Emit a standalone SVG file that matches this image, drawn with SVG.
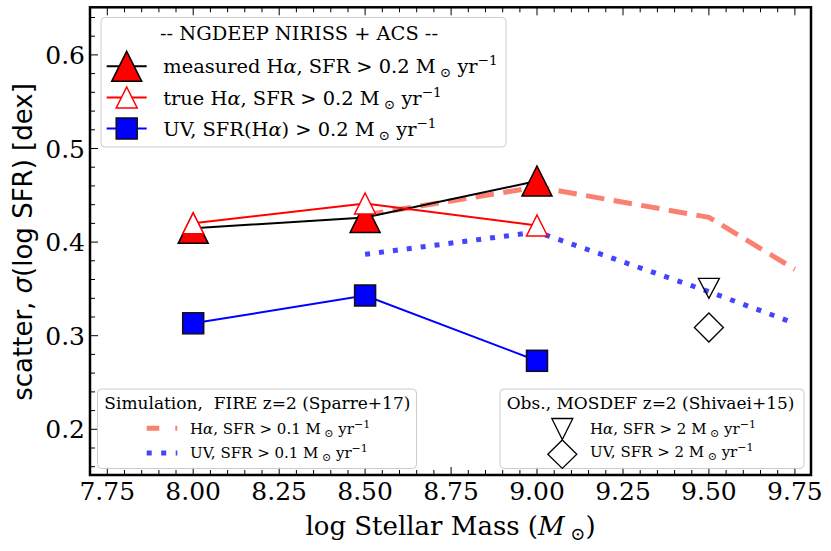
<svg xmlns="http://www.w3.org/2000/svg" width="831" height="551" viewBox="0 0 831 551">
<style>
.serif{font-family:"DejaVu Serif","Liberation Serif",serif;fill:#000}
.sans{font-family:"DejaVu Sans","Liberation Sans",sans-serif;fill:#000}
.tick{font-size:25px}
.lab{font-size:26px}
.lg1{font-size:19.4px}
.lgt{font-size:17px;white-space:pre}
.lge{font-size:15px}
.tk{stroke:#000;stroke-width:1;fill:none}
.legbox{fill:#fff;fill-opacity:0.8;stroke:#cccccc;stroke-width:1}
.meas{fill:#ff0000;stroke:#000;stroke-width:1.5}
.true{fill:#fff;stroke:#ff0000;stroke-width:1.5}
.uv{fill:#0000ff;stroke:#111;stroke-width:1.5}
.obs{fill:none;stroke:#000;stroke-width:1.3}
.fireha{fill:none;stroke:#fa8072;stroke-width:5;stroke-dasharray:18.5 9.5}
.fireuv{fill:none;stroke:#4444ff;stroke-width:5;stroke-dasharray:5 9}
</style>
<rect x="0" y="0" width="831" height="551" fill="#fff"/>

<g id="ticks">
<path class="tk" d="M107.3 475v-8M193.2 475v-8M279.2 475v-8M365.1 475v-8M451.1 475v-8M537 475v-8M623 475v-8M708.9 475v-8M794.9 475v-8
M124.5 475v-5M141.7 475v-5M158.9 475v-5M176 475v-5M210.4 475v-5M227.6 475v-5M244.8 475v-5M262 475v-5M296.4 475v-5M313.6 475v-5M330.8 475v-5M348 475v-5M382.3 475v-5M399.5 475v-5M416.7 475v-5M433.9 475v-5M468.3 475v-5M485.5 475v-5M502.7 475v-5M519.9 475v-5M554.2 475v-5M571.4 475v-5M588.6 475v-5M605.8 475v-5M640.2 475v-5M657.4 475v-5M674.6 475v-5M691.8 475v-5M726.1 475v-5M743.3 475v-5M760.5 475v-5M777.7 475v-5
M107.3 7.3v8M193.2 7.3v8M279.2 7.3v8M365.1 7.3v8M451.1 7.3v8M537 7.3v8M623 7.3v8M708.9 7.3v8M794.9 7.3v8
M124.5 7.3v5M141.7 7.3v5M158.9 7.3v5M176 7.3v5M210.4 7.3v5M227.6 7.3v5M244.8 7.3v5M262 7.3v5M296.4 7.3v5M313.6 7.3v5M330.8 7.3v5M348 7.3v5M382.3 7.3v5M399.5 7.3v5M416.7 7.3v5M433.9 7.3v5M468.3 7.3v5M485.5 7.3v5M502.7 7.3v5M519.9 7.3v5M554.2 7.3v5M571.4 7.3v5M588.6 7.3v5M605.8 7.3v5M640.2 7.3v5M657.4 7.3v5M674.6 7.3v5M691.8 7.3v5M726.1 7.3v5M743.3 7.3v5M760.5 7.3v5M777.7 7.3v5
M90 429.3h8M90 335.7h8M90 242.1h8M90 148.5h8M90 54.9h8
M90 466.7h5M90 448h5M90 410.6h5M90 391.9h5M90 373.1h5M90 354.4h5M90 317h5M90 298.3h5M90 279.5h5M90 260.8h5M90 223.4h5M90 204.7h5M90 185.9h5M90 167.2h5M90 129.8h5M90 111.1h5M90 92.3h5M90 73.6h5M90 36.2h5M90 17.5h5"/>
</g>

<g id="tick-labels" class="serif tick">
<g text-anchor="middle">
<text x="107.3" y="500">7.75</text>
<text x="193.2" y="500">8.00</text>
<text x="279.2" y="500">8.25</text>
<text x="365.1" y="500">8.50</text>
<text x="451.1" y="500">8.75</text>
<text x="537" y="500">9.00</text>
<text x="623" y="500">9.25</text>
<text x="708.9" y="500">9.50</text>
<text x="794.9" y="500">9.75</text>
</g>
<g text-anchor="end">
<text x="85" y="438.3">0.2</text>
<text x="85" y="344.7">0.3</text>
<text x="85" y="251.1">0.4</text>
<text x="85" y="157.5">0.5</text>
<text x="85" y="63.9">0.6</text>
</g>
</g>

<g id="axis-labels">
<text class="serif lab" x="450.5" y="535" text-anchor="middle">log Stellar Mass (<tspan font-style="italic">M</tspan><tspan font-size="18" dy="5"> ⊙</tspan><tspan dy="-5">)</tspan></text>
<text class="sans lab" transform="translate(32 242) rotate(-90)" text-anchor="middle" font-size="26.5">scatter, <tspan font-style="italic">σ</tspan>(log SFR) [dex]</text>
</g>

<g id="connectors">
<g id="fire-ha"><polyline class="fireha" points="365.1,215 537,187 708.9,217.3 794.9,269.3"/></g>
<g id="fire-uv"><polyline class="fireuv" points="365.1,254.3 537,232 708.9,291.7 794.9,323.3"/></g>
<polyline fill="none" stroke="#000" stroke-width="2" points="193.2,228.3 365.1,217.5 537,181"/>
<polyline fill="none" stroke="#ff0000" stroke-width="2" points="193.2,223.3 365.1,203.5 537,225.5"/>
<polyline fill="none" stroke="#0000ff" stroke-width="2" points="193.2,323.3 365.1,295.5 537,360.8"/>
</g>

<g id="measured-ha">
<path class="meas" d="M193.2 213.3L208.2 243.3L178.2 243.3Z"/>
<path class="meas" d="M365.1 202.5L380.1 232.5L350.1 232.5Z"/>
<path class="meas" d="M537 166L552 196L522 196Z"/>
</g>
<g id="true-ha">
<path class="true" d="M193.2 212.8L203.7 233.8L182.7 233.8Z"/>
<path class="true" d="M365.1 193L375.6 214L354.6 214Z"/>
<path class="true" d="M537 215L547.5 236L526.5 236Z"/>
</g>
<g id="uv">
<rect class="uv" x="182.7" y="312.8" width="21" height="21"/>
<rect class="uv" x="354.6" y="285" width="21" height="21"/>
<rect class="uv" x="526.5" y="350.3" width="21" height="21"/>
</g>
<g id="mosdef">
<path class="obs" d="M698.4 278.3L719.4 278.3L708.9 298.3Z"/>
<path class="obs" d="M708.9 313L723.4 327.5L708.9 342L694.4 327.5Z"/>
</g>

<rect id="frame" x="90" y="7.3" width="721" height="467.7" fill="none" stroke="#000" stroke-width="2.5"/>

<g id="legend-ngdeep">
<rect class="legbox" x="101" y="17.5" width="405" height="129.5" rx="4"/>
<text class="serif lg1" x="299" y="39.5" text-anchor="middle">-- NGDEEP NIRISS + ACS --</text>
<line x1="106.7" y1="66.3" x2="146.7" y2="66.3" stroke="#000" stroke-width="2"/>
<path class="meas" d="M126.7 51.3L141.7 81.3L111.7 81.3Z"/>
<text class="serif lg1" x="163.3" y="73.3">measured H<tspan font-style="italic">α</tspan>, SFR &gt; 0.2 M<tspan font-size="13.5" dy="4"> ⊙</tspan><tspan dy="-4"> yr</tspan><tspan font-size="13.5" dy="-8">−1</tspan></text>
<line x1="106.7" y1="97.5" x2="146.7" y2="97.5" stroke="#ff0000" stroke-width="2"/>
<path class="true" d="M126.7 87L137.2 108L116.2 108Z"/>
<text class="serif lg1" x="163.3" y="104.5">true H<tspan font-style="italic">α</tspan>, SFR &gt; 0.2 M<tspan font-size="13.5" dy="4"> ⊙</tspan><tspan dy="-4"> yr</tspan><tspan font-size="13.5" dy="-8">−1</tspan></text>
<line x1="106.7" y1="128.5" x2="146.7" y2="128.5" stroke="#0000ff" stroke-width="2"/>
<rect class="uv" x="116.2" y="118" width="21" height="21"/>
<text class="serif lg1" x="163.3" y="135.5">UV, SFR(H<tspan font-style="italic">α</tspan>) &gt; 0.2 M<tspan font-size="13.5" dy="4"> ⊙</tspan><tspan dy="-4"> yr</tspan><tspan font-size="13.5" dy="-8">−1</tspan></text>
</g>

<g id="legend-fire">
<rect class="legbox" x="97.5" y="389" width="319" height="79.5" rx="4"/>
<text class="serif lgt" x="104.3" y="408.5" xml:space="preserve">Simulation,  FIRE z=2 (Sparre+17)</text>
<line x1="146.7" y1="428.3" x2="177.3" y2="428.3" stroke="#fa8072" stroke-width="5" stroke-dasharray="12.6 16"/>
<text class="serif lge" x="190" y="433.5">H<tspan font-style="italic">α</tspan>, SFR &gt; 0.1 M<tspan font-size="11" dy="3"> ⊙</tspan><tspan dy="-3"> yr</tspan><tspan font-size="11" dy="-6">−1</tspan></text>
<line x1="146.7" y1="453" x2="177.3" y2="453" stroke="#4444ff" stroke-width="5" stroke-dasharray="5 9.5"/>
<text class="serif lge" x="190" y="457.7">UV, SFR &gt; 0.1 M<tspan font-size="11" dy="3"> ⊙</tspan><tspan dy="-3"> yr</tspan><tspan font-size="11" dy="-6">−1</tspan></text>
</g>

<g id="legend-mosdef">
<rect class="legbox" x="500" y="389" width="304" height="79.5" rx="4"/>
<text class="serif lgt" x="506.7" y="408.5">Obs., MOSDEF z=2 (Shivaei+15)</text>
<path class="obs" d="M551.8 418.5L572.8 418.5L562.3 439.5Z"/>
<text class="serif lge" x="590" y="433.5">H<tspan font-style="italic">α</tspan>, SFR &gt; 2 M<tspan font-size="11" dy="3"> ⊙</tspan><tspan dy="-3"> yr</tspan><tspan font-size="11" dy="-6">−1</tspan></text>
<path class="obs" d="M562.3 440L576.8 454.2L562.3 468.4L547.8 454.2Z"/>
<text class="serif lge" x="590" y="457">UV, SFR &gt; 2 M<tspan font-size="11" dy="3"> ⊙</tspan><tspan dy="-3"> yr</tspan><tspan font-size="11" dy="-6">−1</tspan></text>
</g>
</svg>
